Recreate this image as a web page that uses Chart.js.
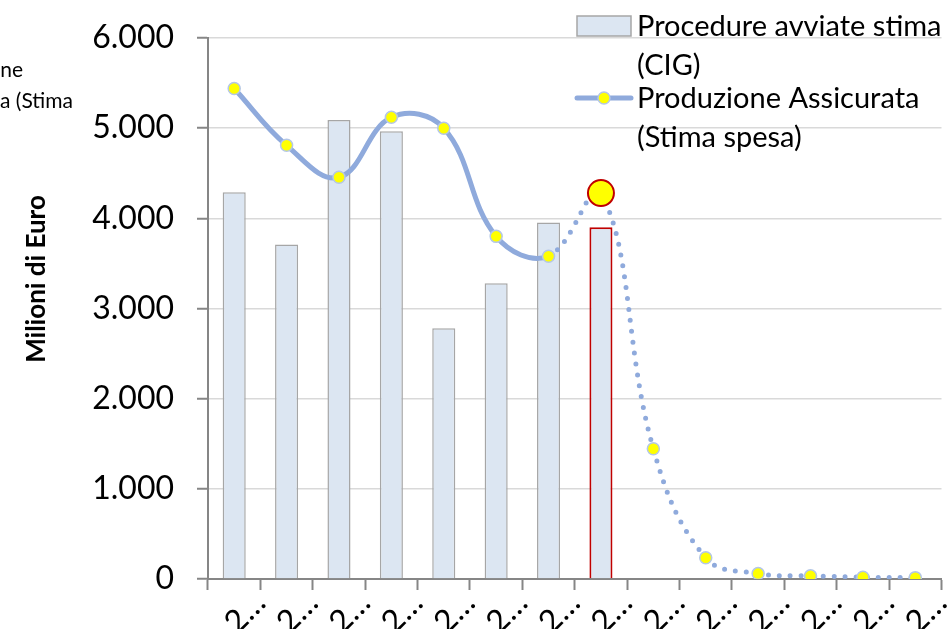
<!DOCTYPE html>
<html>
<head>
<meta charset="utf-8">
<script src="https://cdn.jsdelivr.net/npm/chart.js@4.4.1/dist/chart.umd.min.js"></script>
<style>
  body { margin: 0; background: #fff; }
  #wrap { width: 949px; height: 629px; position: relative; }
</style>
</head>
<body>
<div id="wrap"><canvas id="chart"></canvas></div>
<script>
// values (Milioni di Euro)
const categories = ["2…", "2…", "2…", "2…", "2…", "2…", "2…", "2…", "2…", "2…", "2…", "2…", "2…", "2…"];
const procedureCig = [4290, 3710, 5090, 4965, 2780, 3280, 3955, 3900, null, null, null, null, null, null];
const produzioneAssicurata = [5440, 4810, 4455, 5120, 5000, 3800, 3580, 4280, 1445, 235, 60, 35, 20, 15];
const yTicks = [0, 1000, 2000, 3000, 4000, 5000, 6000];
const highlightIndex = 7;      // stima dell'anno in corso
const dottedFrom = 6;          // da qui la linea diventa tratteggiata

const barLabel = ["Procedure avviate stima", "(CIG)"];
const lineLabel = ["Produzione Assicurata", "(Stima spesa)"];
const yTitle = "Milioni di Euro";

const FONT = "Lato";
const lineBlue = "#8FAADC";
const barFill = "#DCE6F2";
const barGrey = "#A6A6A6";
const axisGrey = "#868686";
const red = "#C00000";

function fmt(n) {
  return String(n).replace(/\B(?=(\d{3})+(?!\d))/g, ".");
}

const legendPlugin = {
  id: "sideLegend",
  afterDraw(chart) {
    const ctx = chart.ctx;
    ctx.save();
    // frammento di testo tagliato in alto a sinistra
    ctx.fillStyle = "#000";
    ctx.font = "21px " + FONT;
    ctx.textAlign = "right";
    ctx.textBaseline = "middle";
    ctx.fillText("Produzione", 23, 70);
    ctx.fillText("Assicurata (Stima", 73, 101);

    // titolo asse y
    ctx.save();
    ctx.translate(37, 279);
    ctx.rotate(-Math.PI / 2);
    ctx.textAlign = "center";
    ctx.font = "bold 26px " + FONT;
    ctx.fillText(yTitle, 0, 0);
    ctx.restore();

    // legenda
    ctx.font = "29px " + FONT;
    ctx.textAlign = "left";
    ctx.fillStyle = barFill;
    ctx.fillRect(577, 16, 54, 20);
    ctx.strokeStyle = barGrey;
    ctx.lineWidth = 1.5;
    ctx.strokeRect(577, 16, 54, 20);
    ctx.fillStyle = "#000";
    ctx.fillText(barLabel[0], 637, 27);
    ctx.fillText(barLabel[1], 637, 66);

    ctx.strokeStyle = lineBlue;
    ctx.lineWidth = 5;
    ctx.lineCap = "round";
    ctx.beginPath();
    ctx.moveTo(577, 98);
    ctx.lineTo(631, 98);
    ctx.stroke();
    ctx.beginPath();
    ctx.arc(604, 98, 6, 0, Math.PI * 2);
    ctx.fillStyle = "#FFFF00";
    ctx.fill();
    ctx.lineWidth = 1.5;
    ctx.strokeStyle = "#B4C7E7";
    ctx.stroke();
    ctx.fillStyle = "#000";
    ctx.fillText(lineLabel[0], 637, 99);
    ctx.fillText(lineLabel[1], 637, 138);
    ctx.restore();
  }
};

new Chart(document.getElementById("chart"), {
  data: {
    labels: categories,
    datasets: [
      {
        type: "line",
        label: lineLabel.join(" "),
        data: produzioneAssicurata,
        order: 0,
        borderColor: lineBlue,
        borderWidth: 5,
        borderCapStyle: "round",
        tension: 0.4,
        segment: {
          borderDash: (c) => (c.p0DataIndex >= dottedFrom ? [0, 11] : undefined),
        },
        pointRadius: produzioneAssicurata.map((v, i) => (i === highlightIndex ? 13 : 6)),
        pointBackgroundColor: "#FFFF00",
        pointBorderColor: produzioneAssicurata.map((v, i) => (i === highlightIndex ? red : "#B4C7E7")),
        pointBorderWidth: produzioneAssicurata.map((v, i) => (i === highlightIndex ? 2 : 1.5)),
      },
      {
        type: "bar",
        label: barLabel.join(" "),
        data: procedureCig,
        order: 1,
        backgroundColor: barFill,
        borderColor: procedureCig.map((v, i) => (i === highlightIndex ? red : barGrey)),
        borderWidth: procedureCig.map((v, i) => (i === highlightIndex ? 2 : 1.5)),
        barPercentage: 0.44,
        categoryPercentage: 1,
      },
    ],
  },
  options: {
    responsive: true,
    maintainAspectRatio: false,
    animation: false,
    layout: { padding: { top: 38, right: 3, left: 0, bottom: 0 } },
    scales: {
      x: {
        offset: true,
        grid: {
          offset: true,
          drawOnChartArea: false,
          tickLength: 11,
          tickColor: axisGrey,
          tickWidth: 2,
        },
        border: { color: axisGrey, width: 2 },
        ticks: {
          autoSkip: false,
          minRotation: 45,
          maxRotation: 45,
          labelOffset: 26,
          padding: -6,
          color: "#000",
          font: { family: FONT, size: 32 },
        },
        afterFit: (s) => {
          s.height = 50;
          s.paddingLeft = 0;
          s.paddingRight = 0;
        },
      },
      y: {
        min: 0,
        max: 6000,
        afterBuildTicks: (s) => { s.ticks = yTicks.map((v) => ({ value: v })); },
        grid: {
          color: "#D9D9D9",
          lineWidth: 1.5,
          tickLength: 11,
          tickColor: axisGrey,
          tickWidth: 2,
        },
        border: { color: axisGrey, width: 2 },
        ticks: {
          padding: 23,
          color: "#000",
          font: { family: FONT, size: 32 },
          callback: (v) => fmt(v),
        },
        afterFit: (s) => {
          s.width = 208;
          s.paddingTop = 0;
          s.paddingBottom = 0;
        },
      },
    },
    plugins: {
      legend: { display: false },
      tooltip: { enabled: false },
    },
  },
  plugins: [legendPlugin],
});
</script>
</body>
</html>
